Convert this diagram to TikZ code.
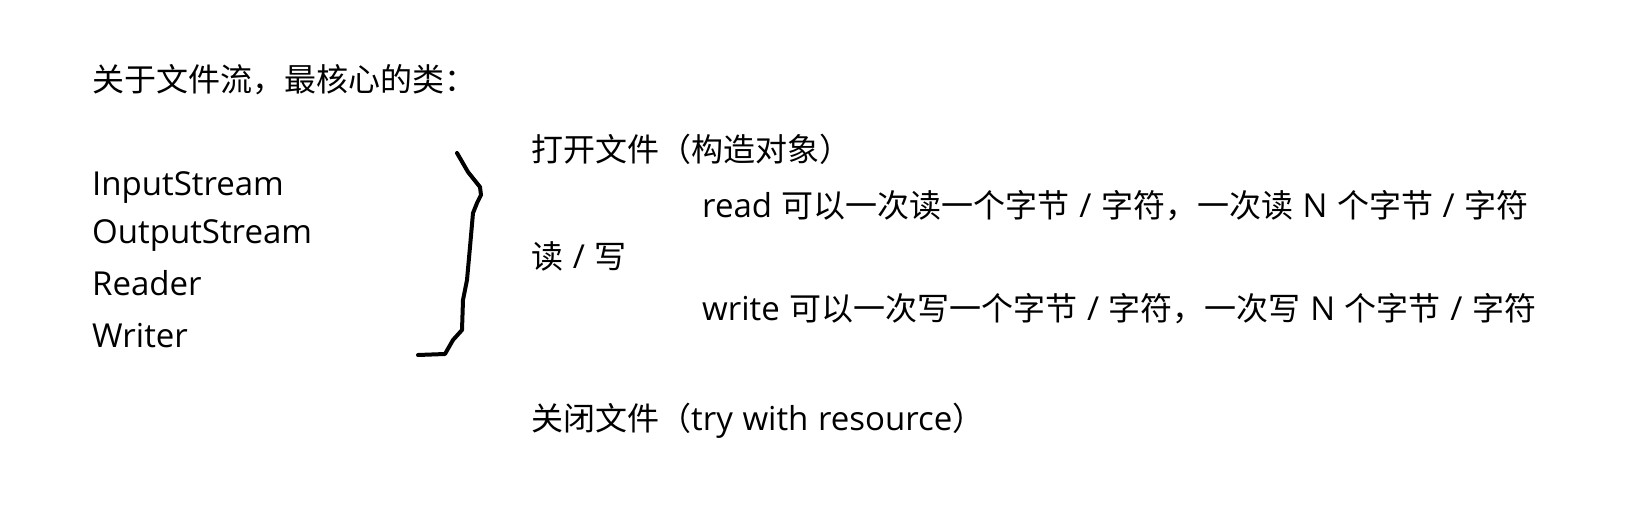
\documentclass[tikz,border=0pt]{standalone}
\usepackage{fontspec}
\setmainfont{Open Sans}[WordSpace=1.12]
\newfontfamily\cjk{Noto Sans CJK SC}[Scale=0.9697]
\newcommand\txtfont{\fontsize{33}{38}\selectfont}
\begin{document}
\begin{tikzpicture}[x=1pt,y=-1pt,
  lbl/.style={inner sep=0pt,anchor=base west,font=\txtfont,text=black},
  bracestroke/.style={line width=4pt,line join=round,line cap=round,black}]
\useasboundingbox[fill=white] (0,0) rectangle (1635,508);
\node[lbl] (title) at (92,92) {{\cjk 关于文件流，最核心的类：}};
\node[lbl] (is) at (92,195) {InputStream};
\node[lbl] (os) at (92,243) {OutputStream};
\node[lbl] (rd) at (92,295) {Reader};
\node[lbl] (wr) at (92,347) {Writer};
\draw[bracestroke] (457,153) -- (468,172) -- (480,187) -- (481,195) -- (477,203) -- (473,213) -- (470,247) -- (467,280) -- (463,300) -- (462,330) -- (453,340) -- (445,354) -- (418,355);
\node[lbl] (open) at (531,161) {{\cjk 打开文件（构造对象）}};
\node[lbl] (read) at (702,217) {read {\cjk 可以一次读一个字节} / {\cjk 字符，一次读} N {\cjk 个字节} / {\cjk 字符}};
\node[lbl] (rw) at (531,268) {{\cjk 读} / {\cjk 写}};
\node[lbl] (write) at (702,320) {write {\cjk 可以一次写一个字节} / {\cjk 字符，一次写} N {\cjk 个字节} / {\cjk 字符}};
\node[lbl] (close) at (531,430) {{\cjk 关闭文件（}try with resource{\cjk ）}};
\end{tikzpicture}
\end{document}
